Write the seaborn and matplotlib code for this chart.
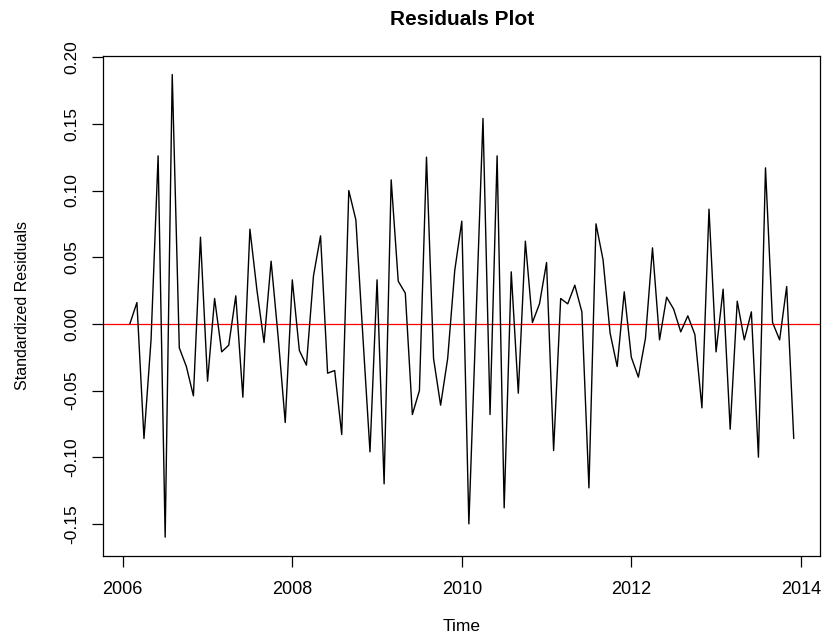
import numpy as np
import pandas as pd
import matplotlib
matplotlib.use("Agg")
import matplotlib.pyplot as plt
import seaborn as sns

# ---- data ----
START_YEAR = 2006
START_MONTH = 2          # series starts Feb 2006, monthly
residuals = [
    0.000, 0.016, -0.086, -0.012, 0.126, -0.160, 0.187, -0.018, -0.032, -0.054,
    0.065, -0.043, 0.019, -0.021, -0.016, 0.021, -0.055, 0.071, 0.025, -0.014,
    0.047, -0.010, -0.074, 0.033, -0.020, -0.031, 0.036, 0.066, -0.037, -0.035,
    -0.083, 0.100, 0.078, -0.010, -0.096, 0.033, -0.120, 0.108, 0.032, 0.023,
    -0.068, -0.050, 0.125, -0.026, -0.061, -0.026, 0.040, 0.077, -0.150, 0.002,
    0.154, -0.068, 0.126, -0.138, 0.039, -0.052, 0.062, 0.001, 0.015, 0.046,
    -0.095, 0.019, 0.015, 0.029, 0.009, -0.123, 0.075, 0.048, -0.007, -0.032,
    0.024, -0.025, -0.040, -0.011, 0.057, -0.012, 0.020, 0.011, -0.006, 0.006,
    -0.008, -0.063, 0.086, -0.021, 0.026, -0.079, 0.017, -0.012, 0.009, -0.100,
    0.117, 0.001, -0.012, 0.028, -0.086,
]
x_ticks = [2006, 2008, 2010, 2012, 2014]
x_tick_labels = ["2006", "2008", "2010", "2012", "2014"]
y_ticks = [-0.15, -0.10, -0.05, 0.00, 0.05, 0.10, 0.15, 0.20]
y_tick_labels = ["-0.15", "-0.10", "-0.05", "0.00", "0.05", "0.10", "0.15", "0.20"]
reference_level = 0.0
title = "Residuals Plot"
x_label = "Time"
y_label = "Standardized Residuals"

time = START_YEAR + (START_MONTH - 1 + np.arange(len(residuals))) / 12.0
df = pd.DataFrame({"Time": time, "Residual": residuals})

# ---- style ----
sns.set_style("ticks")
plt.rcParams["font.family"] = ["Liberation Sans", "DejaVu Sans"]
plt.rcParams["text.color"] = "black"
plt.rcParams["axes.labelcolor"] = "black"
plt.rcParams["xtick.color"] = "black"
plt.rcParams["ytick.color"] = "black"

W, H = 825, 637
fig = plt.figure(figsize=(W / 100, H / 100), dpi=100)
left, right, top, bottom = 103.3, 820.3, 56.0, 555.7
ax = fig.add_axes([left / W, 1 - bottom / H, (right - left) / W, (bottom - top) / H])

sns.lineplot(data=df, x="Time", y="Residual", ax=ax, color="black",
             linewidth=1.0, estimator=None, sort=False)
ax.axhline(reference_level, color="#ff0000", linewidth=0.9, zorder=1)

ax.margins(x=0.04, y=0.04)

ax.set_xticks(x_ticks)
ax.set_xticklabels(x_tick_labels)
ax.set_yticks(y_ticks)
ax.set_yticklabels(y_tick_labels)
ax.set_xlabel("")
ax.set_ylabel("")

ax.tick_params(axis="both", direction="out", length=8, width=0.9,
               color="black", labelcolor="black")
ax.tick_params(axis="x", labelsize=13, pad=10)
ax.tick_params(axis="y", labelsize=12.5, pad=9)
for lbl in ax.get_yticklabels():
    lbl.set_rotation(90)
    lbl.set_va("center")
    lbl.set_ha("right")

for sp in ax.spines.values():
    sp.set_visible(True)
    sp.set_color("black")
    sp.set_linewidth(0.9)

fig.text(461.7 / W, 1 - 25 / H, title, ha="center", va="baseline",
         fontsize=15, fontweight="bold", color="black")
fig.text(461.7 / W, 1 - 631 / H, x_label, ha="center", va="baseline",
         fontsize=12.5, color="black")
fig.text(26.7 / W, 1 - 306 / H, y_label, ha="center", va="baseline",
         rotation=90, rotation_mode="anchor", fontsize=11.5, color="black")

fig.savefig("out.png", dpi=100, facecolor="white")
